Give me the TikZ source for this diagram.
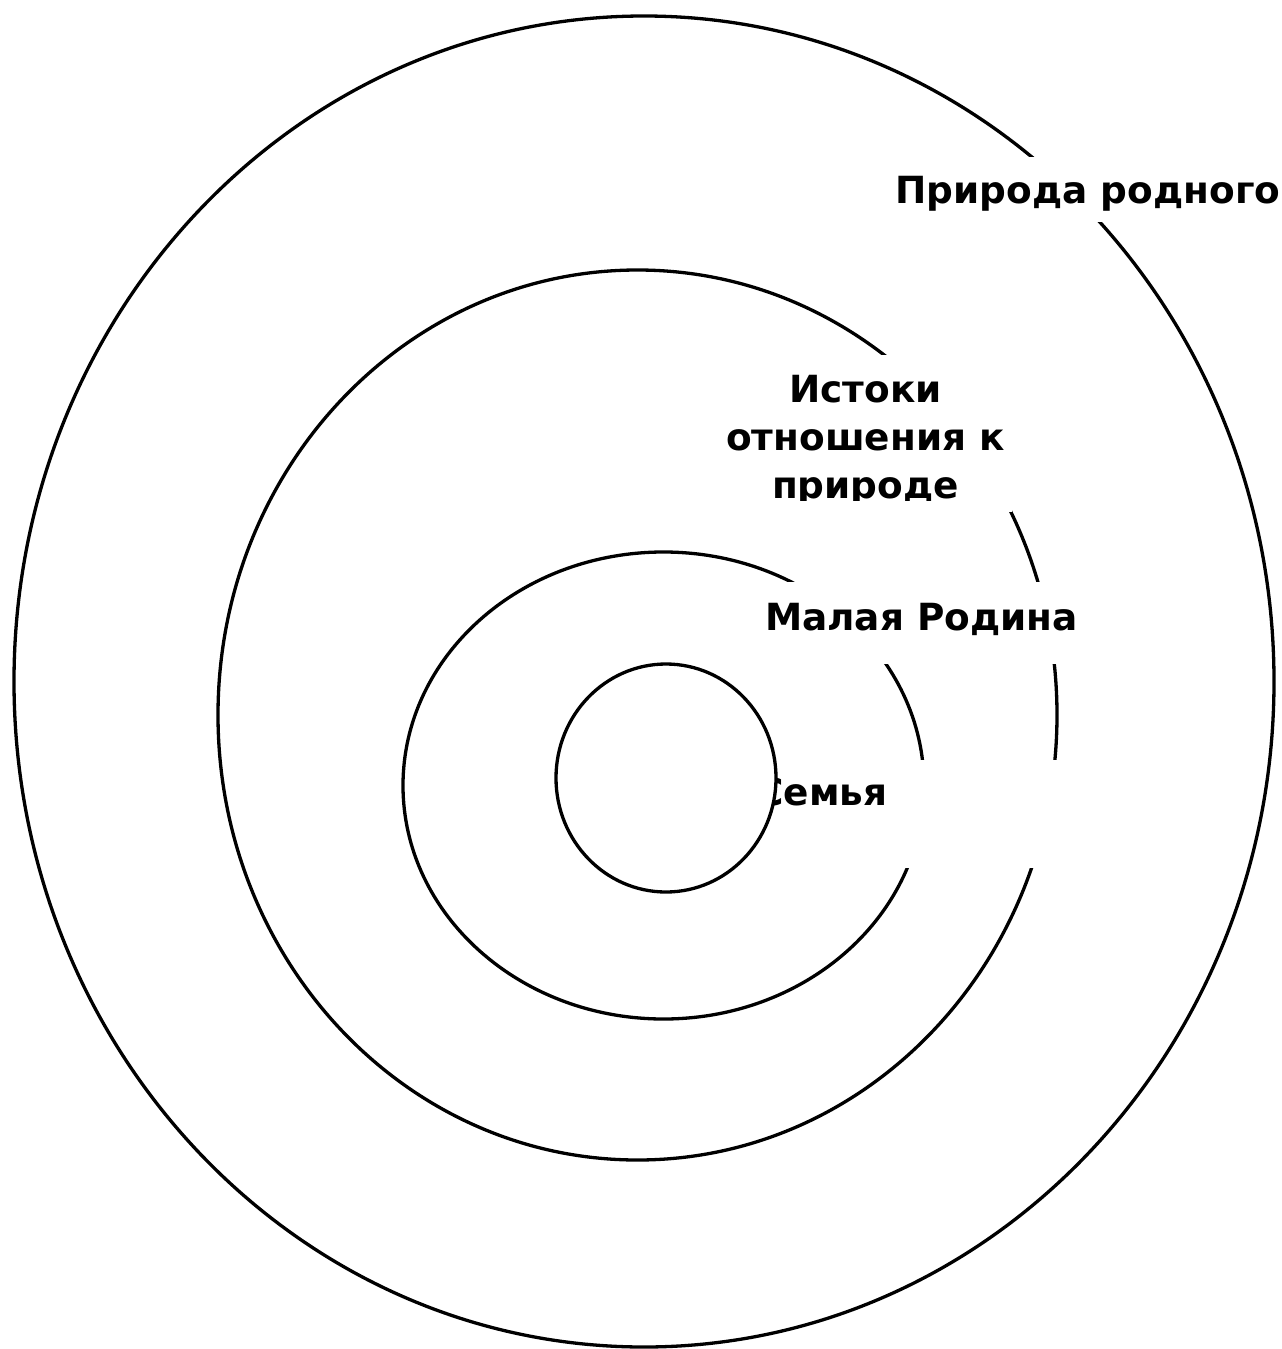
\documentclass[tikz,border=0pt]{standalone}
\usepackage{fontspec}
\setmainfont{DejaVu Sans}
\begin{document}
\begin{tikzpicture}[x=1pt,y=-1pt,
  ring/.style={draw=black,line width=3.3pt},
  mask/.style={fill=white,draw=none,inner sep=0pt,outer sep=0pt},
  lbl/.style={inner sep=0pt,outer sep=0pt,anchor=base,font=\fontsize{37.4}{48}\selectfont\bfseries}]
\useasboundingbox (0,0) rectangle (1282,1349);
\coordinate (c1) at (644,681.5);
\coordinate (c2) at (637.5,715);
\coordinate (c3) at (663.5,785.5);
\coordinate (c4) at (666,778);
% rings
\draw[ring] (c1) ellipse [x radius=630pt, y radius=665.5pt];
\draw[ring] (c2) ellipse [x radius=419.5pt, y radius=445pt];
\draw[ring] (c3) ellipse [x radius=260.5pt, y radius=233.5pt];
% label masks
\node[mask,minimum width=387pt,minimum height=65pt] (m1) at (1088.5,189.5) {};
\node[mask,minimum width=292pt,minimum height=157pt] (m2) at (866,433.5) {};
\node[mask,minimum width=325pt,minimum height=82pt] (m3) at (922.5,623) {};
\node[mask,minimum width=320pt,minimum height=108pt] (m4) at (910,814) {};
% labels
\node[lbl] (t1) at (1088,203) {Природа родного};
\node[lbl] (t2a) at (865.5,402) {Истоки};
\node[lbl] (t2b) at (865.5,450) {отношения к};
\begin{scope}
  \clip (700,355) rectangle (1040,500);
  \node[lbl] (t2c) at (865.5,498) {природе};
\end{scope}
\node[lbl] (t3) at (921.5,630) {Малая Родина};
\node[lbl] (t4) at (822,805) {Семья};
% inner circle on top
\draw[ring,fill=white] (c4) ellipse [x radius=110pt, y radius=114pt];
\end{tikzpicture}
\end{document}
